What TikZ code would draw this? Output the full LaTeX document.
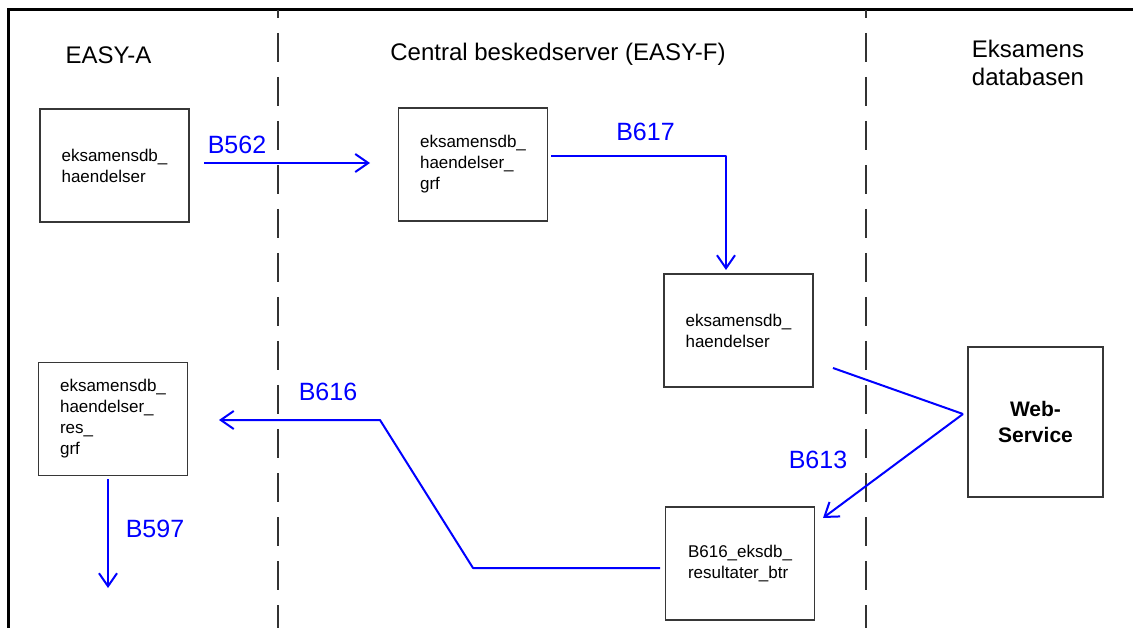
\documentclass[tikz,border=0pt]{standalone}
\usepackage{fontspec}
\setmainfont{Liberation Sans}
\usetikzlibrary{arrows.meta}
\definecolor{flowblue}{RGB}{0,0,255}
\definecolor{boxgray}{RGB}{55,55,55}

\begin{document}
\begin{tikzpicture}[x=1pt,y=-1pt,
  box/.style={draw=boxgray,line width=1.4pt,minimum width=149pt,minimum height=113pt,
    inner sep=0pt,align=left,font=\fontsize{17}{21}\selectfont},
  heading/.style={font=\fontsize{24}{28}\selectfont,align=center,anchor=base,inner sep=0pt},
  lbl/.style={text=flowblue,font=\fontsize{25}{30}\selectfont,inner sep=0pt},
  flow/.style={draw=flowblue,line width=2pt,line join=round,
    -{Straight Barb[length=13pt,width=18pt,line width=2pt]}},
  plain/.style={draw=flowblue,line width=2pt,line join=round},
  lane/.style={draw=black!80,line width=1.6pt,dash pattern=on 29pt off 15pt,dash phase=21pt},
]
\useasboundingbox (0,0) rectangle (1133,628);

% outer frame (left and top edges)
\draw[line width=3pt] (8,628) -- (8,10) -- (1133,10);

% lane separators
\draw[lane] (278,10) -- (278,628);
\draw[lane] (866,10) -- (866,628);

% lane headings
\node[heading] (hA) at (108.5,64) {EASY-A};
\node[heading] (hF) at (558,60.5) {Central beskedserver (EASY-F)};
\node[heading] (hE) at (1028,86) {Eksamens\\databasen};

% message boxes
\node[box] (a1) at (114.5,165.5) {eksamensdb\_\\haendelser};
\node[box] (f1) at (473,164.5) {eksamensdb\_\\haendelser\_\\grf};
\node[box] (f2) at (738.5,330.5) {eksamensdb\_\\haendelser};
\node[box] (a2) at (113,419) {eksamensdb\_\\haendelser\_\\res\_\\grf};
\node[box] (f3) at (740,563.5) {B616\_eksdb\_\\resultater\_btr};
\node[draw=boxgray,line width=1.4pt,minimum width=135pt,minimum height=150pt,inner sep=0pt,
  align=center,font=\bfseries\fontsize{21}{26}\selectfont] (ws) at (1035.5,422) {Web-\\Service};

% connector end points
\coordinate (b562s) at (204,163);
\coordinate (b562e) at (370,163);
\coordinate (b617s) at (551,156);
\coordinate (b617c) at (726,156);
\coordinate (b617e) at (726,270);
\coordinate (wsin) at (833,368);
\coordinate (wsmid) at (963,414);
\coordinate (b613e) at (823,518);
\coordinate (b616s) at (660,568);
\coordinate (b616a) at (473,568);
\coordinate (b616b) at (380,420);
\coordinate (b616e) at (219,420);
\coordinate (b597s) at (108,479);
\coordinate (b597e) at (108,588);

% message flows
\draw[flow] (b562s) -- (b562e);
\draw[flow] (b617s) -- (b617c) -- (b617e);
\draw[plain] (wsin) -- (wsmid);
\draw[flow] (wsmid) -- (b613e);
\draw[flow] (b616s) -- (b616a) -- (b616b) -- (b616e);
\draw[flow] (b597s) -- (b597e);

% flow labels
\node[lbl] (l562) at (237,144.5) {B562};
\node[lbl] (l617) at (645.5,132) {B617};
\node[lbl] (l613) at (818,460) {B613};
\node[lbl] (l616) at (328,392) {B616};
\node[lbl] (l597) at (155,529) {B597};
\end{tikzpicture}
\end{document}
